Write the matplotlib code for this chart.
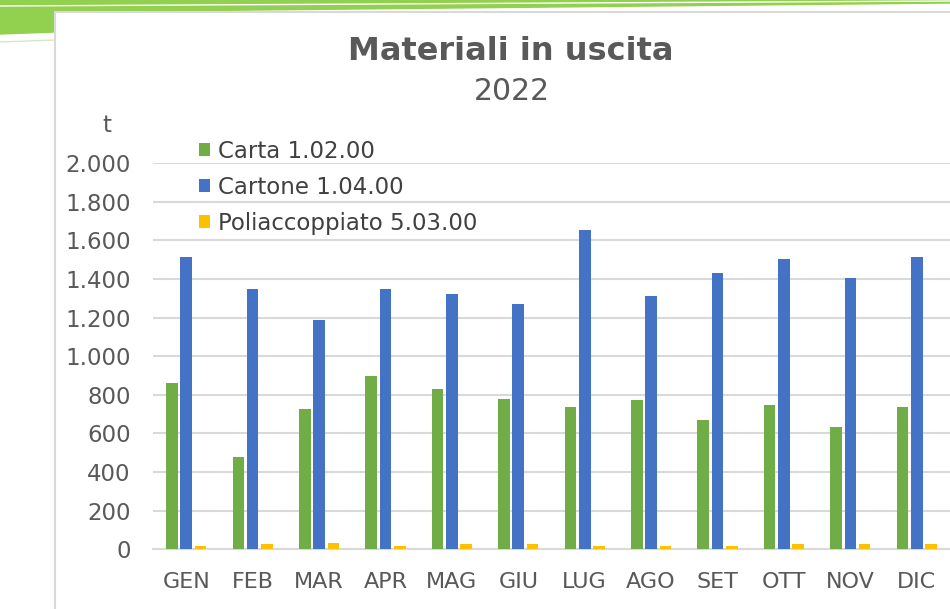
import numpy as np
import matplotlib.pyplot as plt
from matplotlib.patches import Polygon, Rectangle
from matplotlib.ticker import FuncFormatter

# data (tonnes per month, 2022)
months = ["GEN", "FEB", "MAR", "APR", "MAG", "GIU", "LUG", "AGO", "SET", "OTT", "NOV", "DIC"]
carta = [862, 479, 724, 896, 829, 776, 738, 771, 672, 745, 633, 738]
cartone = [1511, 1350, 1186, 1350, 1324, 1272, 1655, 1310, 1431, 1503, 1403, 1511]
poliaccoppiato = [19, 26, 33, 19, 26, 26, 19, 19, 19, 26, 26, 26]
series_names = ["Carta 1.02.00", "Cartone 1.04.00", "Poliaccoppiato 5.03.00"]
colors = ["#70AD47", "#4472C4", "#FFC000"]

W, H = 950, 609
fig = plt.figure(figsize=(W / 100, H / 100), dpi=100)
fig.patch.set_facecolor("white")

# slide decoration: green strip at the top and chart frame
fig.patches.append(Polygon([[0, 1], [1, 1], [1, 1 - 3 / H], [55 / W, 1 - 12 / H], [0, 1 - 12 / H]],
                           closed=True, transform=fig.transFigure, color="#92D050", zorder=0))
fig.patches.append(Polygon([[0, 1 - 10 / H], [55 / W, 1 - 10 / H], [55 / W, 1 - 32 / H], [0, 1 - 34 / H]],
                           closed=True, transform=fig.transFigure, color="#92D050", zorder=0))
fig.lines.append(plt.Line2D([0, 1], [1 - 6 / H, 1 - 1 / H], transform=fig.transFigure,
                            color="white", lw=1.0, zorder=1))
fig.lines.append(plt.Line2D([0, 55 / W], [1 - 42 / H, 1 - 40 / H], transform=fig.transFigure,
                            color="#D5E8C4", lw=1.0, zorder=1))
fig.patches.append(Rectangle((55 / W, -0.01), 1, 1 - 12 / H + 0.01, transform=fig.transFigure,
                             facecolor="white", edgecolor="#D9D9D9", lw=1.5, zorder=1))

ax = fig.add_axes([153 / W, 1 - 549.3 / H, 1 - 153 / W, (549.3 - 163) / H])
ax.set_facecolor("none")
ax.set_zorder(5)

x = np.arange(len(months))
width = 0.175
offsets = [-0.215, 0.0, 0.215]
for vals, off, col, name in zip([carta, cartone, poliaccoppiato], offsets, colors, series_names):
    ax.bar(x + off, vals, width, color=col, label=name, zorder=3)

ax.set_xlim(-0.5, len(months) - 0.5)
ax.set_ylim(0, 2000)
ax.set_yticks(np.arange(0, 2001, 200))
ax.yaxis.set_major_formatter(FuncFormatter(lambda v, p: f"{int(v):,}".replace(",", ".")))
ax.set_xticks(x)
ax.set_xticklabels(months)
ax.grid(axis="y", color="#D9D9D9", lw=1.5, zorder=0)
ax.set_axisbelow(True)
for s in ["top", "right", "left"]:
    ax.spines[s].set_visible(False)
ax.spines["bottom"].set_color("#D9D9D9")
ax.spines["bottom"].set_linewidth(1.5)
ax.tick_params(axis="y", length=0, pad=16, labelsize=16.5, labelcolor="#595959")
ax.tick_params(axis="x", length=0, pad=16, labelsize=16, labelcolor="#595959")

fig.text(107 / W, 1 - 125 / H, "t", ha="center", va="center", fontsize=16.5, color="#595959", zorder=6)
fig.text(511 / W, 1 - 52 / H, "Materiali in uscita", ha="center", va="center",
         fontsize=23, fontweight="bold", color="#595959", zorder=6)
fig.text(512 / W, 1 - 92 / H, "2022", ha="center", va="center", fontsize=21.5, color="#595959", zorder=6)

ax.legend(loc="upper left", bbox_to_anchor=(199 / W, 1 - 139.5 / H), bbox_transform=fig.transFigure,
          frameon=False, fontsize=16.5, labelcolor="#404040", handlelength=0.5, handleheight=0.5,
          handletextpad=0.35, labelspacing=0.57, borderpad=0, borderaxespad=0)

fig.savefig("out.png", dpi=100)
